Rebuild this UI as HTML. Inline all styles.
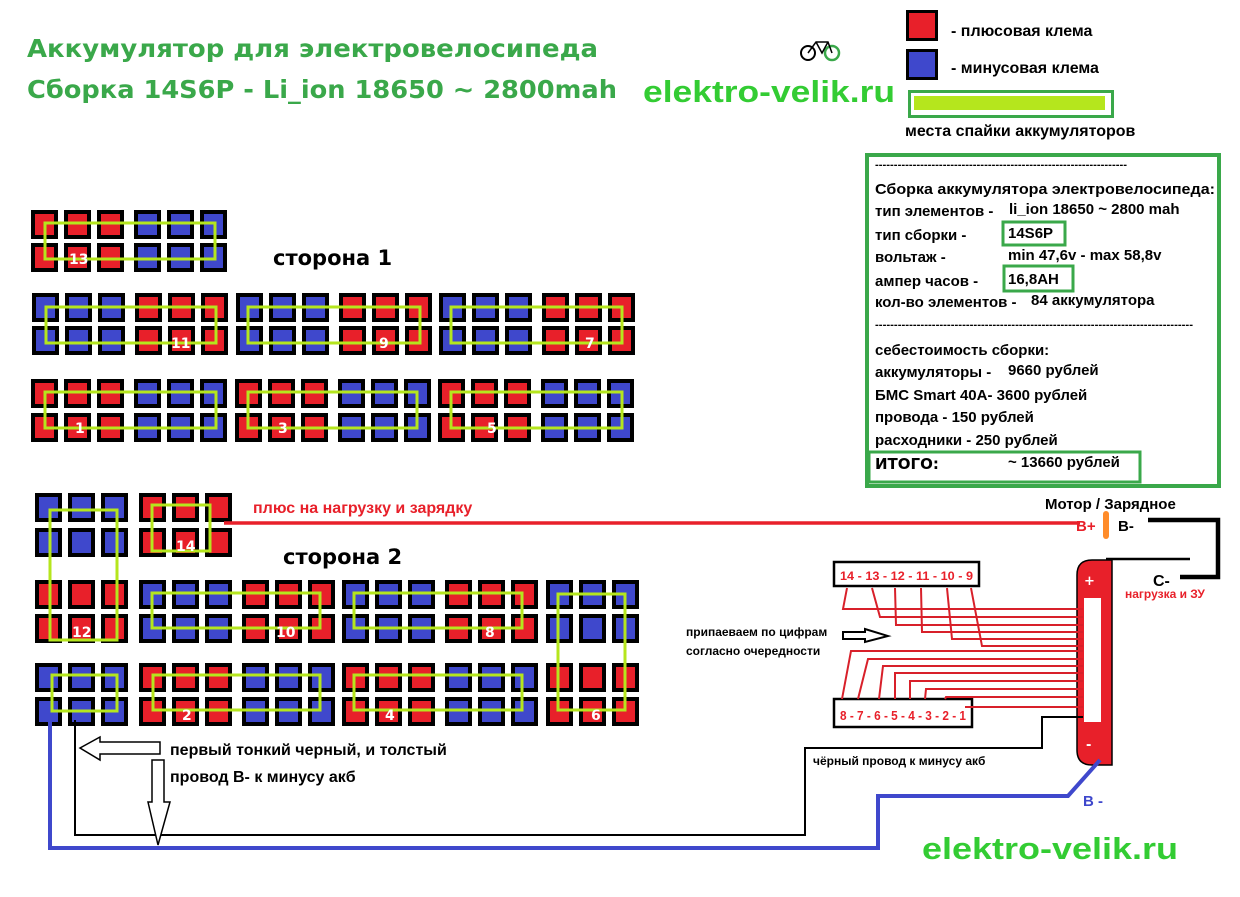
<!DOCTYPE html>
<html><head><meta charset="utf-8"><style>
html,body{margin:0;padding:0;background:#fff}
svg{display:block}
text{font-family:"DejaVu Sans","Liberation Sans",sans-serif;font-weight:bold}
.a{font-family:"Liberation Sans",sans-serif;font-weight:bold}
</style></head><body>
<svg width="1240" height="897" viewBox="0 0 1240 897" xmlns="http://www.w3.org/2000/svg">
<defs>
<g id="r3"><rect x="2" y="2" width="23" height="25" fill="#e8202a" stroke="#000" stroke-width="4"/><rect x="35" y="2" width="23" height="25" fill="#e8202a" stroke="#000" stroke-width="4"/><rect x="68" y="2" width="23" height="25" fill="#e8202a" stroke="#000" stroke-width="4"/></g>
<g id="b3"><rect x="2" y="2" width="23" height="25" fill="#3f48cc" stroke="#000" stroke-width="4"/><rect x="35" y="2" width="23" height="25" fill="#3f48cc" stroke="#000" stroke-width="4"/><rect x="68" y="2" width="23" height="25" fill="#3f48cc" stroke="#000" stroke-width="4"/></g>
</defs>

<!-- titles -->
<text x="27" y="57" font-size="25" fill="#3aa84a" textLength="571" lengthAdjust="spacingAndGlyphs">Аккумулятор для электровелосипеда</text>
<text x="27" y="98" font-size="25" fill="#3aa84a" textLength="590" lengthAdjust="spacingAndGlyphs">Сборка 14S6P - Li_ion 18650 ~ 2800mah</text>
<text class="a" x="643" y="102" font-size="31" fill="#33cc33" textLength="252" lengthAdjust="spacingAndGlyphs">elektro-velik.ru</text>
<text class="a" x="922" y="859" font-size="31" fill="#33cc33" textLength="256" lengthAdjust="spacingAndGlyphs">elektro-velik.ru</text>
<!-- bike logo -->
<circle cx="808" cy="53" r="7" fill="none" stroke="#000" stroke-width="2"/>
<circle cx="832" cy="53" r="7" fill="none" stroke="#3aa84a" stroke-width="2.5"/>
<path d="M808 53 L816 42 L828 42 L832 53 M816 42 L822 53 L828 42" fill="none" stroke="#000" stroke-width="1.5"/>

<!-- legend -->
<rect x="907.5" y="11.5" width="29" height="28" fill="#e8202a" stroke="#000" stroke-width="3"/>
<rect x="907.5" y="50.5" width="29" height="28" fill="#3f48cc" stroke="#000" stroke-width="3"/>
<text class="a" x="951" y="36" font-size="16" fill="#000">- плюсовая клема</text>
<text class="a" x="951" y="73" font-size="16" fill="#000">- минусовая клема</text>
<rect x="909.5" y="91.5" width="203" height="25" fill="none" stroke="#3aa84a" stroke-width="3"/>
<rect x="914" y="96" width="191" height="14" fill="#b5e61d"/>
<text class="a" x="905" y="136" font-size="16" fill="#000">места спайки аккумуляторов</text>

<!-- info box -->
<rect x="867" y="155" width="352" height="331" fill="none" stroke="#3aa84a" stroke-width="4"/>
<g class="a" font-size="15" fill="#000">
<text class="a" x="875" y="168" font-size="11" textLength="252" lengthAdjust="spacingAndGlyphs">-------------------------------------------------------------------</text>
<text class="a" x="875" y="194" textLength="340" lengthAdjust="spacingAndGlyphs">Сборка аккумулятора электровелосипеда:</text>
<text class="a" x="875" y="216">тип элементов -</text><text class="a" x="1009" y="214">li_ion 18650 ~ 2800 mah</text>
<text class="a" x="875" y="240">тип сборки -</text><text class="a" x="1008" y="238">14S6P</text>
<text class="a" x="875" y="262">вольтаж -</text><text class="a" x="1008" y="260">min 47,6v - max 58,8v</text>
<text class="a" x="875" y="286">ампер часов -</text><text class="a" x="1008" y="284">16,8AH</text>
<text class="a" x="875" y="307">кол-во элементов -</text><text class="a" x="1031" y="305">84 аккумулятора</text>
<text class="a" x="875" y="328" font-size="11" textLength="318" lengthAdjust="spacingAndGlyphs">------------------------------------------------------------------------------------</text>
<text class="a" x="875" y="355">себестоимость сборки:</text>
<text class="a" x="875" y="377">аккумуляторы -</text><text class="a" x="1008" y="375">9660 рублей</text>
<text class="a" x="875" y="400">БМС Smart 40A- 3600 рублей</text>
<text class="a" x="875" y="422">провода - 150 рублей</text>
<text class="a" x="875" y="445">расходники - 250 рублей</text>
<text x="875" y="469" font-family="Liberation Sans" font-weight="normal" font-size="15">ИТОГО:</text><text class="a" x="1008" y="467">~ 13660 рублей</text>
</g>
<rect x="1003" y="222" width="62" height="23" fill="none" stroke="#3aa84a" stroke-width="3"/>
<rect x="1004" y="266" width="69" height="25" fill="none" stroke="#3aa84a" stroke-width="3"/>
<rect x="869" y="452" width="271" height="30" fill="none" stroke="#3aa84a" stroke-width="3"/>

<!-- side 1 -->
<text x="273" y="265" font-size="21" fill="#000">сторона 1</text>
<use href="#r3" x="31" y="210"/><use href="#b3" x="134" y="210"/>
<use href="#r3" x="31" y="243"/><use href="#b3" x="134" y="243"/>
<use href="#b3" x="32" y="293"/><use href="#r3" x="135" y="293"/><use href="#b3" x="236" y="293"/><use href="#r3" x="339" y="293"/><use href="#b3" x="439" y="293"/><use href="#r3" x="542" y="293"/>
<use href="#b3" x="32" y="326"/><use href="#r3" x="135" y="326"/><use href="#b3" x="236" y="326"/><use href="#r3" x="339" y="326"/><use href="#b3" x="439" y="326"/><use href="#r3" x="542" y="326"/>
<use href="#r3" x="31" y="379"/><use href="#b3" x="134" y="379"/><use href="#r3" x="235" y="379"/><use href="#b3" x="338" y="379"/><use href="#r3" x="438" y="379"/><use href="#b3" x="541" y="379"/>
<use href="#r3" x="31" y="413"/><use href="#b3" x="134" y="413"/><use href="#r3" x="235" y="413"/><use href="#b3" x="338" y="413"/><use href="#r3" x="438" y="413"/><use href="#b3" x="541" y="413"/>
<g fill="none" stroke="#b5e61d" stroke-width="3">
<rect x="45" y="223" width="170" height="36"/>
<rect x="46" y="307" width="170" height="36"/><rect x="248" y="307" width="172" height="36"/><rect x="451" y="307" width="171" height="36"/>
<rect x="45" y="392" width="171" height="36"/><rect x="248" y="392" width="169" height="36"/><rect x="451" y="392" width="171" height="36"/>
</g>
<g font-size="14" fill="#fff">
<text x="69" y="264">13</text><text x="171" y="348">11</text><text x="379" y="348">9</text><text x="585" y="348">7</text>
<text x="75" y="433">1</text><text x="278" y="433">3</text><text x="487" y="433">5</text>
</g>

<!-- side 2 -->
<text x="283" y="564" font-size="21" fill="#000">сторона 2</text>
<use href="#b3" x="35" y="493"/><use href="#r3" x="139" y="493"/>
<use href="#b3" x="35" y="528"/><use href="#r3" x="139" y="528"/>
<use href="#r3" x="35" y="580"/><use href="#b3" x="139" y="580"/><use href="#r3" x="242" y="580"/><use href="#b3" x="342" y="580"/><use href="#r3" x="445" y="580"/><use href="#b3" x="546" y="580"/>
<use href="#r3" x="35" y="614"/><use href="#b3" x="139" y="614"/><use href="#r3" x="242" y="614"/><use href="#b3" x="342" y="614"/><use href="#r3" x="445" y="614"/><use href="#b3" x="546" y="614"/>
<use href="#b3" x="35" y="663"/><use href="#r3" x="139" y="663"/><use href="#b3" x="242" y="663"/><use href="#r3" x="342" y="663"/><use href="#b3" x="445" y="663"/><use href="#r3" x="546" y="663"/>
<use href="#b3" x="35" y="697"/><use href="#r3" x="139" y="697"/><use href="#b3" x="242" y="697"/><use href="#r3" x="342" y="697"/><use href="#b3" x="445" y="697"/><use href="#r3" x="546" y="697"/>
<g fill="none" stroke="#b5e61d" stroke-width="3">
<rect x="50" y="510" width="67" height="130"/>
<rect x="152" y="505" width="58" height="46"/>
<rect x="152" y="593" width="168" height="35"/><rect x="354" y="593" width="168" height="35"/>
<rect x="558" y="594" width="67" height="116"/>
<rect x="52" y="675" width="65" height="36"/>
<rect x="153" y="675" width="167" height="35"/><rect x="354" y="675" width="168" height="35"/>
</g>
<g font-size="14" fill="#fff">
<text x="72" y="637">12</text><text x="176" y="551">14</text><text x="276" y="637">10</text><text x="485" y="637">8</text>
<text x="591" y="720">6</text><text x="182" y="720">2</text><text x="385" y="720">4</text>
</g>

<!-- plus wire -->
<line x1="224" y1="523" x2="1080" y2="523" stroke="#e8202a" stroke-width="3.5"/>
<text class="a" x="253" y="513" font-size="16" fill="#e8202a">плюс на нагрузку и зарядку</text>
<text class="a" x="1045" y="509" font-size="15" fill="#000">Мотор / Зарядное</text>
<text class="a" x="1076" y="531" font-size="15" fill="#e8202a">B+</text>
<rect x="1103" y="511" width="6" height="28" rx="3" fill="#ff8c2a"/>
<text class="a" x="1118" y="531" font-size="15" fill="#000">B-</text>
<path d="M1148 520 L1218 520 L1218 577 L1180 577" fill="none" stroke="#000" stroke-width="4.5"/>
<line x1="1106" y1="559" x2="1190" y2="559" stroke="#000" stroke-width="2.5"/>
<text class="a" x="1153" y="586" font-size="16" fill="#000">C-</text>
<text class="a" x="1125" y="598" font-size="12" fill="#e8202a">нагрузка и ЗУ</text>

<!-- BMS board -->
<path d="M1112 560 L1092 560 Q1077 560 1077 575 L1077 750 Q1077 765 1092 765 L1112 765 Z" fill="#e8202a" stroke="#000" stroke-width="1.5"/>
<rect x="1084" y="598" width="17" height="124" fill="#fff"/>
<text x="1084" y="585" font-size="13" fill="#fff">+</text>
<text x="1086" y="749" font-size="13" fill="#fff">-</text>

<!-- connectors -->
<rect x="834" y="562" width="145" height="24" fill="#fff" stroke="#000" stroke-width="2.5"/>
<text class="a" x="840" y="580" font-size="12" fill="#e8202a" textLength="133" lengthAdjust="spacingAndGlyphs">14 - 13 - 12 - 11 -  10 - 9</text>
<rect x="834" y="699" width="138" height="28" fill="#fff" stroke="#000" stroke-width="2.5"/>
<text class="a" x="840" y="720" font-size="13" fill="#e8202a" textLength="126" lengthAdjust="spacingAndGlyphs">8 - 7 - 6 - 5 - 4 - 3 - 2 - 1</text>
<g fill="none" stroke="#d8202a" stroke-width="2">
<path d="M847 588 L843 609 L1083 609"/>
<path d="M872 588 L880 617 L1083 617"/>
<path d="M895 588 L896 625 L1083 625"/>
<path d="M921 588 L922 632 L1083 632"/>
<path d="M947 588 L952 639 L1083 639"/>
<path d="M971 588 L982 646 L1083 646"/>
<path d="M842 699 L851 651 L1083 651"/>
<path d="M858 699 L868 659 L1083 659"/>
<path d="M879 699 L883 666 L1083 666"/>
<path d="M895 699 L895 673 L1083 673"/>
<path d="M910 699 L910 681 L1083 681"/>
<path d="M925 699 L926 689 L1083 689"/>
<path d="M945 699 L946 697 L1083 697"/>
<path d="M965 707 L1083 707"/>
</g>
<text class="a" x="686" y="636" font-size="12" fill="#000">припаеваем по цифрам</text>
<text class="a" x="686" y="655" font-size="12" fill="#000">согласно очередности</text>
<path d="M843 632 L865 632 L865 629 L888 636 L865 642 L865 639 L843 639 Z" fill="#fff" stroke="#000" stroke-width="2"/>

<!-- black thin wire -->
<path d="M1083 717 L1042 717 L1042 748 L805 748 L805 835 L75 835 L75 720" fill="none" stroke="#000" stroke-width="2"/>
<text class="a" x="813" y="765" font-size="12" fill="#000">чёрный провод к минусу акб</text>
<!-- blue wire -->
<path d="M50 718 L50 848 L878 848 L878 796 L1068 796 L1100 760" fill="none" stroke="#3f48cc" stroke-width="4"/>
<text class="a" x="1083" y="806" font-size="15" fill="#3f48cc">B -</text>

<!-- arrows -->
<path d="M80 748 L100 737 L100 742 L160 742 L160 754 L100 754 L100 760 Z" fill="#fff" stroke="#000" stroke-width="1.5"/>
<path d="M152 760 L164 760 L164 802 L170 802 L158 845 L148 802 L152 802 Z" fill="#fff" stroke="#000" stroke-width="1.5"/>
<text class="a" x="170" y="755" font-size="16" fill="#000">первый тонкий черный, и толстый</text>
<text class="a" x="170" y="782" font-size="16" fill="#000">провод B- к минусу акб</text>
</svg>
</body></html>
